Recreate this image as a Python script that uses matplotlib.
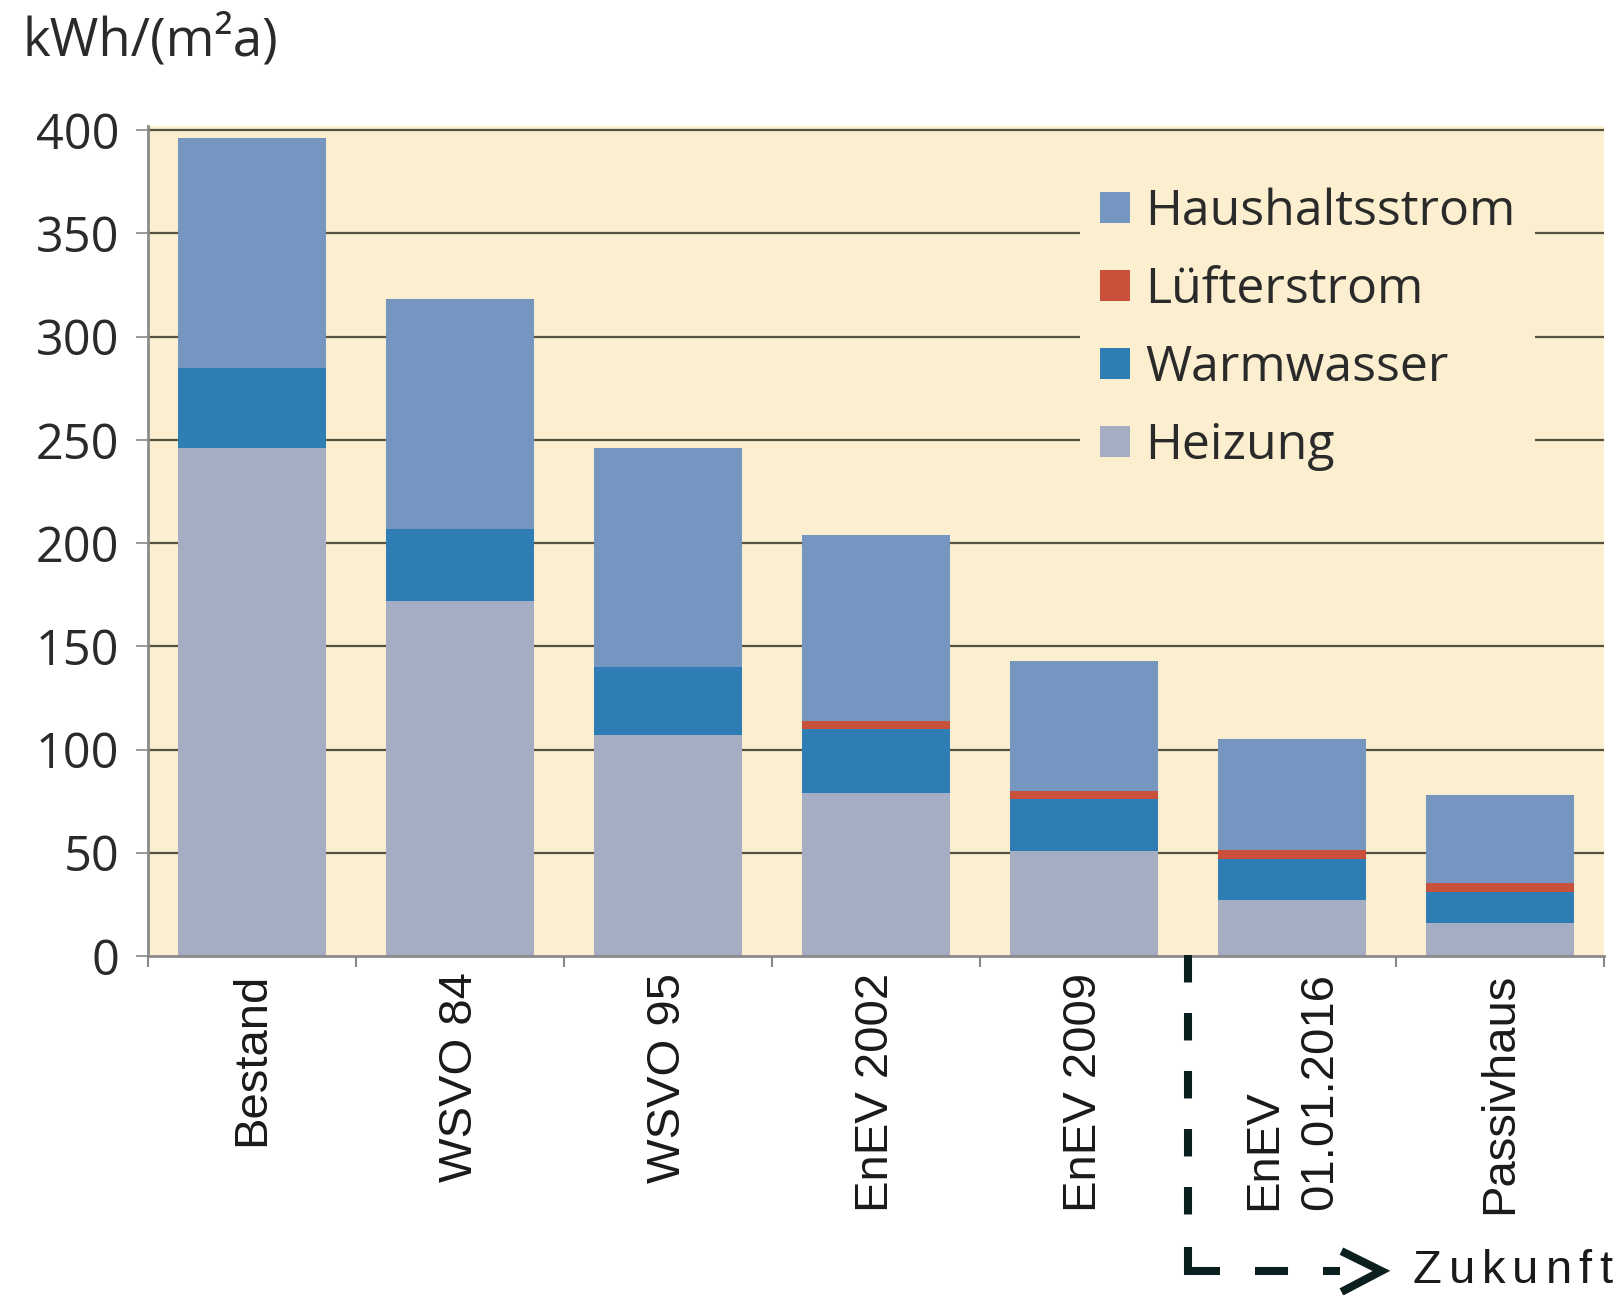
import matplotlib
matplotlib.use("Agg")
import matplotlib.pyplot as plt
import numpy as np

categories = ["Bestand", "WSVO 84", "WSVO 95", "EnEV 2002", "EnEV 2009", "EnEV\n01.01.2016", "Passivhaus"]
heizung = [246, 172, 107, 79, 51, 27, 16]
warmwasser = [39, 35, 33, 31, 25, 20, 15]
luefterstrom = [0, 0, 0, 4, 4, 4.5, 4.5]
haushaltsstrom = [111, 111, 106, 90, 63, 53.5, 42.5]
yticks = [0, 50, 100, 150, 200, 250, 300, 350, 400]
series_names = ["Heizung", "Warmwasser", "Lüfterstrom", "Haushaltsstrom"]

col_heiz = "#a4adc3"
col_ww = "#2e7db4"
col_lf = "#c9503b"
col_hh = "#7496c1"
bg = "#fcefcf"
grid_col = "#55513f"

FONT = "Open Sans"
XFONT = "Liberation Sans"

fig = plt.figure(figsize=(16.21, 12.95), dpi=100)
ax = fig.add_axes([0.0913, 0.2618, 0.8982, 0.6409])
ax.set_facecolor(bg)

x = np.arange(len(categories))
w = 0.71
b = np.zeros(len(categories))
for vals, col, name in [(heizung, col_heiz, series_names[0]), (warmwasser, col_ww, series_names[1]),
                        (luefterstrom, col_lf, series_names[2]), (haushaltsstrom, col_hh, series_names[3])]:
    ax.bar(x, vals, w, bottom=b, color=col, label=name, zorder=3, linewidth=0)
    b = b + np.array(vals)

ax.set_xlim(-0.5, len(categories) - 0.5)
ax.set_ylim(0, 402)
ax.set_yticks(yticks)
ax.set_yticklabels([str(t) for t in yticks], fontfamily=FONT, fontsize=35, color="#2a2a2a")
ax.tick_params(axis="y", length=8.6, width=1.2, color="#888888", pad=12)

for t in yticks[1:]:
    ax.axhline(t, color=grid_col, lw=1.6, zorder=1)

ax.set_xticks(x)
ax.set_xticklabels([])
ax.set_xticks(np.arange(-0.5, len(categories)), minor=True)
ax.tick_params(axis="x", which="major", length=0)
ax.tick_params(axis="x", which="minor", length=8, width=1.5, color="#888888")
for xi, lab in zip(x, categories):
    ax.text(xi, -0.02, lab, transform=ax.get_xaxis_transform(), rotation=90,
            ha="center", va="top", multialignment="left",
            fontfamily=XFONT, fontsize=34, color="#1a1a1a", linespacing=1.35)

for s in ["top", "right"]:
    ax.spines[s].set_visible(False)
for s in ["left", "bottom"]:
    ax.spines[s].set_color("#8a8a8a")
    ax.spines[s].set_linewidth(2)
    ax.spines[s].set_zorder(4)

handles, labels = ax.get_legend_handles_labels()
leg = ax.legend(handles[::-1], labels[::-1], loc="upper left", bbox_to_anchor=(0.623, 0.98),
                frameon=True, facecolor=bg, edgecolor="none", framealpha=1, fancybox=False,
                prop={"family": FONT, "size": 36}, handlelength=0.6, handleheight=0.6,
                handletextpad=0.3, labelspacing=0.57, borderpad=0.4)
leg.set_zorder(5)
for t in leg.get_texts():
    t.set_color("#2a2a2a")

fig.text(0.014, 0.9675, "kWh/(m²a)", fontfamily=FONT, fontsize=38, color="#2a2a2a",
         ha="left", va="center")

# Dashed "Zukunft" marker
tr = ax.get_xaxis_transform()
dash_col = "#0c1f1f"
LW = 5.8
v, = ax.plot([4.5, 4.5], [0.001, -0.314], transform=tr, clip_on=False,
             color=dash_col, lw=LW, dash_capstyle="butt", zorder=6)
v.set_dashes((3.41, 3.79))
ax.plot([4.5, 4.5, 4.654], [-0.351, -0.3795, -0.3795], transform=tr, clip_on=False,
        color=dash_col, lw=LW, solid_capstyle="butt", solid_joinstyle="miter", zorder=6)
h, = ax.plot([4.822, 5.231], [-0.3795, -0.3795], transform=tr, clip_on=False,
             color=dash_col, lw=LW, dash_capstyle="butt", zorder=6)
h.set_dashes((4.1, 4.34))
ax.plot([5.255, 5.43, 5.255], [-0.3578, -0.3795, -0.4025], transform=tr, clip_on=False,
        color=dash_col, lw=LW, solid_joinstyle="miter", zorder=6)

fig.canvas.draw()
renderer = fig.canvas.get_renderer()
xpos = ax.transData.transform((5.58, 0))[0]
ypix = fig.transFigure.transform((0, 0.01853))[1]
for ch in "Zukunft":
    t = fig.text(xpos / fig.bbox.width, ypix / fig.bbox.height, ch, fontfamily=XFONT,
                 fontsize=34, color="#1a1a1a", ha="left", va="center")
    bb = t.get_window_extent(renderer)
    xpos += bb.width + 7

fig.savefig("out.png", dpi=100, facecolor="white")
